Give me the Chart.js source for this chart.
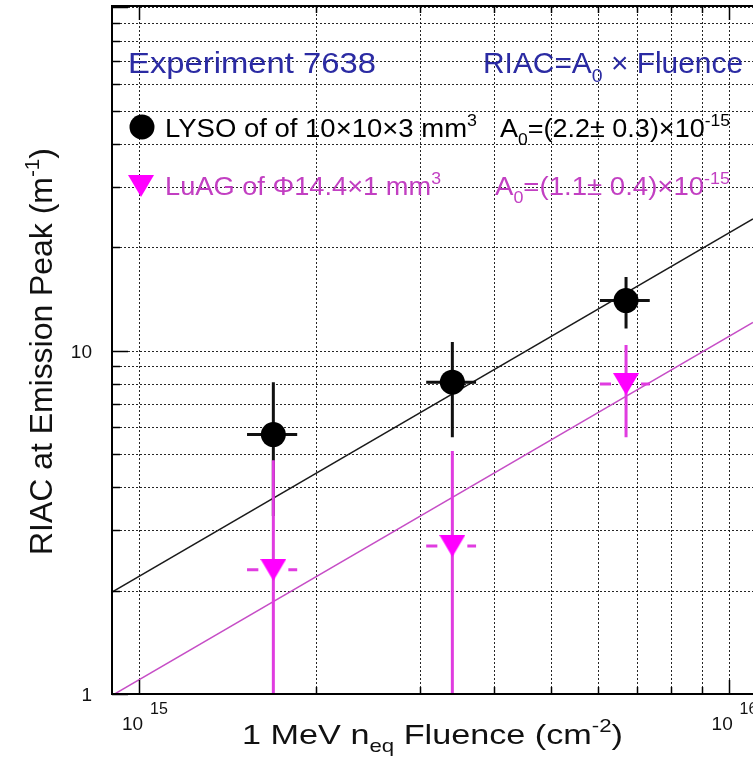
<!DOCTYPE html>
<html>
<head>
<meta charset="utf-8">
<script src="https://cdn.jsdelivr.net/npm/chart.js@4.4.1/dist/chart.umd.min.js"></script>
<style>
  html, body { margin: 0; padding: 0; background: #fff; overflow: hidden; }
  canvas { display: block; }
</style>
</head>
<body>
<canvas id="riac_chart" width="753" height="771"></canvas>
<script>
// values
const fluence = [1.69e15, 3.40e15, 6.70e15];
const fluenceErr = [0.165e15, 0.33e15, 0.65e15];
const lysoRiac = [5.7, 8.1, 14.0];
const lysoErr = [2.4, 2.5, 2.4];
const luagRiac = [2.3, 2.7, 8.0];
const luagErr = [2.5, 2.4, 2.4];

// fits RIAC = A0 x Fluence
const lysoA0 = 2.2e-15;
const luagA0 = 1.1e-15;
const fitRange = [9.0e14, 1.1e16];

// grid / tick positions and labels
const xGrid = [1e15, 2e15, 3e15, 4e15, 5e15, 6e15, 7e15, 8e15, 9e15, 1e16];
const yGrid = [1, 2, 3, 4, 5, 6, 7, 8, 9, 10, 20, 30, 40, 50, 60, 70, 80, 90, 100];
const xLabelValues = [1e15, 1e16];
const xLabelExps = ['15', '16'];
const yLabelValues = [1, 10];
const yLabels = ['1', '10'];

const FONT = '"Liberation Sans", Arial, Helvetica, sans-serif';
const BLUE = '#2b2ba3';
const MAG_TEXT = '#c23fc2';
const MAG = '#ff00ff';
const MAG_BAR = '#e03ce0';

function makeTriangle(w, h, color)
{
      const c = document.createElement('canvas');
      c.width = w;
      c.height = h;
      const g = c.getContext('2d');
      g.fillStyle = color;
      g.beginPath();
      g.moveTo(0, 0);
      g.lineTo(w, 0);
      g.lineTo(w / 2, h);
      g.closePath();
      g.fill();
      return c;
}

const triangle = makeTriangle(26, 22, MAG);

// text with sub/superscripts, stretched to the width seen in the plot
function drawRich(ctx, parts, x, y, size, color, fitWidth)
{
      ctx.save();
      ctx.fillStyle = color;
      ctx.textBaseline = 'alphabetic';
      ctx.textAlign = 'left';
      let w = 0;
      parts.forEach(p => {
            ctx.font = (p[1] ? size * 0.65 : size) + 'px ' + FONT;
            w += ctx.measureText(p[0]).width;
      });
      const k = fitWidth ? fitWidth / w : 1;
      ctx.translate(x, y);
      ctx.scale(k, 1);
      let cx = 0;
      parts.forEach(p => {
            ctx.font = (p[1] ? size * 0.65 : size) + 'px ' + FONT;
            const dy = p[1] === 'sup' ? -size * 0.42 : (p[1] === 'sub' ? size * 0.3 : 0);
            ctx.fillText(p[0], cx, dy);
            cx += ctx.measureText(p[0]).width;
      });
      ctx.restore();
}

const rootStyle = {
      id: 'rootStyle',
      beforeDatasetsDraw(chart)
      {
            const ctx = chart.ctx;
            const a = chart.chartArea;
            const xs = chart.scales.x;
            const ys = chart.scales.y;
            ctx.save();
            ctx.strokeStyle = 'rgba(0,0,0,0.85)';
            ctx.lineWidth = 1;
            ctx.setLineDash([2, 2]);
            xGrid.forEach(v => {
                  const px = Math.round(xs.getPixelForValue(v)) + 0.5;
                  ctx.beginPath();
                  ctx.moveTo(px, a.top);
                  ctx.lineTo(px, a.bottom);
                  ctx.stroke();
            });
            yGrid.forEach(v => {
                  const py = Math.round(ys.getPixelForValue(v)) + 0.5;
                  ctx.beginPath();
                  ctx.moveTo(a.left, py);
                  ctx.lineTo(a.right, py);
                  ctx.stroke();
            });
            ctx.restore();
      },
      beforeDatasetDraw(chart, args)
      {
            const ds = chart.data.datasets[args.index];
            if (!ds.errY) return;
            const ctx = chart.ctx;
            const a = chart.chartArea;
            const xs = chart.scales.x;
            const ys = chart.scales.y;
            ctx.save();
            ctx.beginPath();
            ctx.rect(a.left, a.top, a.right - a.left, a.bottom - a.top);
            ctx.clip();
            ctx.strokeStyle = ds.barColor;
            ctx.lineWidth = 3;
            ds.data.forEach((p, i) => {
                  const px = xs.getPixelForValue(p.x);
                  const py = ys.getPixelForValue(p.y);
                  const lo = p.y - ds.errY[i];
                  const yLo = lo > 0 ? ys.getPixelForValue(lo) : a.bottom + 5;
                  const yHi = ys.getPixelForValue(p.y + ds.errY[i]);
                  const xLo = xs.getPixelForValue(p.x - ds.errX[i]);
                  const xHi = xs.getPixelForValue(p.x + ds.errX[i]);
                  const gap = ds.barGap;
                  ctx.beginPath();
                  ctx.moveTo(px, yHi);
                  ctx.lineTo(px, yLo);
                  ctx.moveTo(xLo, py);
                  ctx.lineTo(px - gap, py);
                  ctx.moveTo(px + gap, py);
                  ctx.lineTo(xHi, py);
                  ctx.stroke();
            });
            ctx.restore();
      },
      afterDatasetsDraw(chart)
      {
            const ctx = chart.ctx;
            const a = chart.chartArea;
            const xs = chart.scales.x;
            const ys = chart.scales.y;
            ctx.save();
            ctx.strokeStyle = '#000';
            ctx.lineWidth = 1.5;
            // small ticks along the frame
            xGrid.forEach(v => {
                  const px = Math.round(xs.getPixelForValue(v)) + 0.5;
                  const len = (v === 1e15 || v === 1e16) ? 14 : 7;
                  ctx.beginPath();
                  ctx.moveTo(px, a.bottom);
                  ctx.lineTo(px, a.bottom - len);
                  ctx.moveTo(px, a.top);
                  ctx.lineTo(px, a.top + len);
                  ctx.stroke();
            });
            yGrid.forEach(v => {
                  const py = Math.round(ys.getPixelForValue(v)) + 0.5;
                  const len = (v === 1 || v === 10 || v === 100) ? 16 : 8;
                  ctx.beginPath();
                  ctx.moveTo(a.left, py);
                  ctx.lineTo(a.left + len, py);
                  ctx.stroke();
            });
            // frame
            ctx.lineWidth = 2;
            ctx.beginPath();
            ctx.moveTo(a.right + 2, a.top);
            ctx.lineTo(a.left, a.top);
            ctx.lineTo(a.left, a.bottom);
            ctx.lineTo(a.right + 2, a.bottom);
            ctx.stroke();
            ctx.restore();
      },
      afterDraw(chart)
      {
            const ctx = chart.ctx;
            const xs = chart.scales.x;
            const ys = chart.scales.y;

            // tick labels
            ctx.save();
            ctx.fillStyle = '#111';
            ctx.font = '19px ' + FONT;
            ctx.textAlign = 'right';
            ctx.textBaseline = 'alphabetic';
            yLabelValues.forEach((v, i) => {
                  ctx.fillText(yLabels[i], 92, ys.getPixelForValue(v) + 7);
            });
            ctx.textAlign = 'left';
            xLabelValues.forEach((v, i) => {
                  const px = xs.getPixelForValue(v);
                  ctx.font = '19px ' + FONT;
                  ctx.fillText('10', px - 17, 730);
                  ctx.font = '16px ' + FONT;
                  ctx.fillText(xLabelExps[i], px + 11, 714);
            });
            ctx.restore();

            // axis titles
            drawRich(ctx, [['1 MeV n', ''], ['eq', 'sub'], [' Fluence (cm', ''], ['-2', 'sup'], [')', '']],
                  242, 744, 28, '#111', 381);
            ctx.save();
            ctx.translate(52, 351.5);
            ctx.rotate(-Math.PI / 2);
            drawRich(ctx, [['RIAC at Emission Peak (m', ''], ['-1', 'sup'], [')', '']],
                  -203.5, 0, 31, '#111', 407);
            ctx.restore();

            // labels inside the frame
            drawRich(ctx, [['Experiment 7638', '']], 128, 73, 29, BLUE, 248);
            drawRich(ctx, [['RIAC=A', ''], ['0', 'sub'], [' \u00d7 Fluence', '']], 483, 73, 29, BLUE, 260);

            ctx.save();
            ctx.fillStyle = '#000';
            ctx.beginPath();
            ctx.arc(142, 127, 12.5, 0, Math.PI * 2);
            ctx.fill();
            ctx.drawImage(triangle, 128, 175, 26, 22);
            ctx.restore();

            drawRich(ctx, [['LYSO of of 10\u00d710\u00d73 mm', ''], ['3', 'sup']], 165, 137, 26, '#000', 312);
            drawRich(ctx, [['A', ''], ['0', 'sub'], ['=(2.2\u00b1 0.3)\u00d710', ''], ['-15', 'sup']], 500, 137, 26, '#000', 230);
            drawRich(ctx, [['LuAG of \u03a614.4\u00d71 mm', ''], ['3', 'sup']], 165, 195, 26, MAG_TEXT, 276);
            drawRich(ctx, [['A', ''], ['0', 'sub'], ['=(1.1\u00b1 0.4)\u00d710', ''], ['-15', 'sup']], 495, 195, 26, MAG_TEXT, 235);
      }
};

const fitLine = (a0) => fitRange.map(x => ({ x: x, y: a0 * x }));

const config = {
      type: 'scatter',
      data: {
            datasets: [
                  {
                        label: 'LuAG',
                        data: fluence.map((x, i) => ({ x: x, y: luagRiac[i] })),
                        errX: fluenceErr,
                        errY: luagErr,
                        barColor: MAG_BAR,
                        barGap: 15,
                        pointStyle: triangle,
                        pointRadius: 13,
                        order: 1
                  },
                  {
                        label: 'LYSO',
                        data: fluence.map((x, i) => ({ x: x, y: lysoRiac[i] })),
                        errX: fluenceErr,
                        errY: lysoErr,
                        barColor: '#111',
                        barGap: 0,
                        pointStyle: 'circle',
                        pointRadius: 12.5,
                        pointBorderWidth: 0,
                        backgroundColor: '#000',
                        borderColor: '#000',
                        order: 2
                  },
                  {
                        label: 'LYSO fit',
                        data: fitLine(lysoA0),
                        showLine: true,
                        borderColor: '#1a1a1a',
                        borderWidth: 1.5,
                        pointRadius: 0,
                        order: 3
                  },
                  {
                        label: 'LuAG fit',
                        data: fitLine(luagA0),
                        showLine: true,
                        borderColor: '#c64ec6',
                        borderWidth: 1.5,
                        pointRadius: 0,
                        order: 4
                  }
            ]
      },
      options: {
            responsive: false,
            animation: false,
            events: [],
            layout: {
                  autoPadding: false,
                  padding: { top: 6, right: 0, bottom: 0, left: 0 }
            },
            scales: {
                  x: {
                        type: 'logarithmic',
                        min: fitRange[0],
                        max: fitRange[1],
                        grid: { display: false },
                        border: { display: false },
                        ticks: { display: false },
                        afterBuildTicks: s => { s.ticks = xGrid.map(v => ({ value: v })); },
                        afterFit: s => { s.height = 77; }
                  },
                  y: {
                        type: 'logarithmic',
                        min: 1,
                        max: 101,
                        grid: { display: false },
                        border: { display: false },
                        ticks: { display: false },
                        afterBuildTicks: s => { s.ticks = yGrid.map(v => ({ value: v })); },
                        afterFit: s => { s.width = 112; }
                  }
            },
            plugins: {
                  legend: { display: false },
                  tooltip: { enabled: false }
            }
      },
      plugins: [rootStyle]
};

new Chart(document.getElementById('riac_chart'), config);
</script>
</body>
</html>
